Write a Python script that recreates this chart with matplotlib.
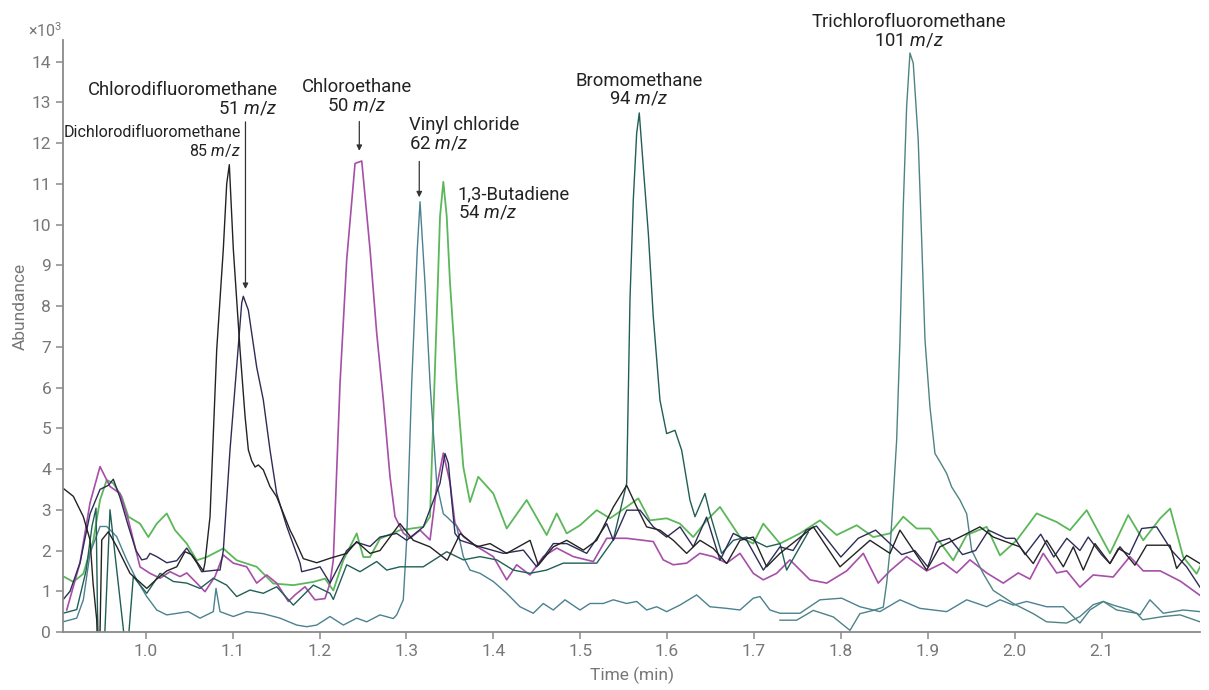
import matplotlib
matplotlib.use("Agg")
import matplotlib.pyplot as plt

plt.rcParams['font.family'] = ['Roboto', 'DejaVu Sans']
plt.rcParams['mathtext.fontset'] = 'custom'
plt.rcParams['mathtext.rm'] = 'Roboto'
plt.rcParams['mathtext.it'] = 'Roboto:italic'

# ---- data (time in min, abundance x10^3) ----
t_dichloro = [0.9048, 0.9167, 0.9282, 0.9359, 0.9394, 0.9436, 0.9445, 0.9463, 0.9474, 0.9494, 0.957, 0.9666,
              0.9819, 1.0012, 1.0127, 1.0242, 1.0357, 1.0452, 1.0529, 1.0663, 1.0682, 1.074, 1.0817, 1.0893,
              1.0932, 1.0962, 1.1008, 1.1085, 1.1143, 1.1181, 1.122, 1.1258, 1.1296, 1.1353, 1.143, 1.1507,
              1.1583, 1.1661, 1.1699, 1.1814, 1.1968, 1.2121, 1.2313, 1.2428, 1.2581, 1.2696, 1.2926, 1.308,
              1.3271, 1.347, 1.362, 1.3809, 1.3963, 1.4154, 1.4423, 1.4518, 1.4691, 1.4845, 1.5037, 1.519,
              1.5382, 1.5535, 1.565, 1.5765, 1.5918, 1.6072, 1.6225, 1.6379, 1.6532, 1.6686, 1.6839, 1.6992,
              1.7146, 1.7299, 1.7683, 1.799, 1.8335, 1.8565, 1.868, 1.8987, 1.914, 1.937, 1.96, 1.9754, 2.006,
              2.0214, 2.0368, 2.056, 2.0675, 2.079, 2.0924, 2.1097, 2.1212, 2.1384, 2.1519, 2.1788, 2.1864,
              2.1979, 2.2133]
v_dichloro = [3.53, 3.33, 2.83, 2.26, 1.2, 0.3, -0.3, -0.3, 0.0, 2.26, 2.46, 2.1,
              1.44, 1.07, 1.3, 1.5, 1.6, 1.97, 1.9, 1.5, 1.7, 2.83, 6.93, 9.4,
              11.0, 11.47, 9.4, 6.93, 5.3, 4.47, 4.2, 4.05, 4.1, 3.98, 3.57, 3.32,
              2.92, 2.5, 2.34, 1.8, 1.7, 1.81, 1.93, 2.22, 1.93, 2.0, 2.66, 2.25,
              2.09, 1.76, 2.42, 2.09, 2.17, 1.93, 2.25, 1.64, 2.09, 2.25, 2.01, 2.25,
              3.07, 3.6, 3.07, 2.58, 2.5, 2.25, 1.93, 2.25, 2.05, 1.68, 2.25, 2.33,
              1.6, 1.93, 2.58, 1.6, 2.25, 1.93, 2.5, 1.52, 2.09, 2.33, 2.58, 2.33, 2.09,
              1.68, 2.25, 1.6, 2.09, 1.52, 2.17, 1.68, 2.09, 1.64, 2.13, 2.13, 1.56,
              1.88, 1.68]

t_chlorodifluoro = [0.9048, 0.9129, 0.9244, 0.9359, 0.9474, 0.957, 0.9627, 0.9704, 0.98, 0.9888, 0.9954,
                    1.0012, 1.0049, 1.0127, 1.0242, 1.0357, 1.0472, 1.0587, 1.0644, 1.0817, 1.0855, 1.0893,
                    1.097, 1.1047, 1.1105, 1.1123, 1.1181, 1.1277, 1.1353, 1.143, 1.1507, 1.1623, 1.1776,
                    1.1795, 1.1929, 1.2006, 1.2121, 1.2313, 1.2428, 1.2581, 1.2696, 1.2888, 1.3003, 1.3195,
                    1.3387, 1.3444, 1.3483, 1.3521, 1.3559, 1.362, 1.385, 1.4117, 1.4346, 1.45, 1.4691,
                    1.4845, 1.5075, 1.5305, 1.5382, 1.5535, 1.5689, 1.5842, 1.5995, 1.6149, 1.6302, 1.6455,
                    1.6609, 1.6762, 1.6916, 1.7108, 1.7299, 1.745, 1.76, 1.772, 1.80, 1.82, 1.84, 1.855,
                    1.87, 1.885, 1.90, 1.91, 1.925, 1.94, 1.955, 1.97, 1.99, 2.0, 2.012, 2.03, 2.045, 2.06,
                    2.0751, 2.0847, 2.1, 2.1097, 2.1193, 2.132, 2.1462, 2.1634, 2.1807, 2.1979, 2.2133]
v_chlorodifluoro = [0.79, 1.0, 1.7, 2.9, 3.5, 3.6, 3.75, 3.3, 2.6, 2.0, 1.77,
                    1.8, 1.93, 1.85, 1.7, 1.75, 2.06, 1.7, 1.48, 1.52, 1.52, 2.0,
                    4.47, 6.52, 8.08, 8.24, 7.9, 6.5, 5.7, 4.47, 3.4, 2.59, 1.69,
                    1.48, 1.55, 1.6, 1.2, 2.0, 2.2, 2.1, 2.33, 2.42, 2.25, 2.58,
                    3.65, 4.38, 4.14, 3.24, 2.42, 2.25, 2.09, 1.93, 2.01, 1.6, 2.17,
                    2.17, 1.93, 2.66, 2.25, 2.99, 2.99, 2.58, 2.33, 2.58, 2.09, 2.82,
                    1.76, 2.42, 2.25, 1.52, 2.09, 2.0, 2.5, 2.6, 1.84, 2.3, 2.5, 2.2,
                    1.9, 2.0, 1.6, 2.2, 2.3, 1.9, 2.0, 2.5, 2.3, 2.3, 1.9, 2.4, 1.84, 2.3,
                    2.0, 2.33, 1.9, 1.68, 2.05, 1.9, 2.54, 2.58, 2.0, 1.6, 1.1]

t_chloroethane = [0.9091, 0.9244, 0.9359, 0.9474, 0.9589, 0.9704, 0.98, 0.9934, 1.0049, 1.0165, 1.028, 1.0395,
                  1.0472, 1.0587, 1.0682, 1.0797, 1.0893, 1.1008, 1.1162, 1.1277, 1.1392, 1.1507, 1.1641,
                  1.1718, 1.1833, 1.1948, 1.2063, 1.2121, 1.2159, 1.2236, 1.2313, 1.2409, 1.2486, 1.2581,
                  1.2658, 1.2734, 1.2811, 1.2869, 1.2964, 1.3041, 1.3157, 1.3272, 1.3349, 1.3425, 1.3502,
                  1.3559, 1.3655, 1.3809, 1.4, 1.4154, 1.4269, 1.4422, 1.4575, 1.473, 1.4921, 1.5151,
                  1.5305, 1.5535, 1.5688, 1.5841, 1.5956, 1.6071, 1.6226, 1.6377, 1.6532, 1.6686, 1.6839,
                  1.6992, 1.7107, 1.7261, 1.7414, 1.7644, 1.7837, 1.8067, 1.8258, 1.843, 1.8565, 1.8757,
                  1.8987, 1.9178, 1.9333, 1.9486, 1.9678, 1.9869, 2.0042, 2.0176, 2.0329, 2.0483, 2.0598,
                  2.0751, 2.0904, 2.1134, 2.1326, 2.148, 2.1675, 2.1905, 2.2133]
v_chloroethane = [0.54, 1.7, 3.17, 4.06, 3.57, 3.4, 2.75, 1.6, 1.44, 1.32, 1.48, 1.36,
                  1.45, 1.2, 0.99, 1.36, 1.89, 1.69, 1.6, 1.2, 1.4, 1.2, 0.75,
                  0.91, 1.11, 0.79, 0.82, 1.2, 1.77, 6.1, 9.14, 11.5, 11.56, 9.4,
                  7.34, 5.7, 3.82, 2.83, 2.43, 2.3, 2.5, 2.26, 3.57, 4.39, 3.66,
                  2.67, 2.34, 2.1, 1.85, 1.28, 1.65, 1.4, 1.85, 2.06, 1.85, 1.73,
                  2.3, 2.3, 2.26, 2.22, 1.77, 1.65, 1.69, 1.93, 1.85, 1.69, 1.93,
                  1.44, 1.28, 1.44, 1.77, 1.28, 1.2, 1.5, 1.93, 1.2, 1.5, 1.85,
                  1.5, 1.7, 1.45, 1.77, 1.45, 1.2, 1.45, 1.3, 1.93, 1.45, 1.5,
                  1.1, 1.4, 1.35, 1.85, 1.5, 1.5, 1.25, 0.9]

t_vinyl = [0.9048, 0.9206, 0.9282, 0.9359, 0.9474, 0.9551, 0.9666, 0.9781, 0.9896, 1.0012, 1.0127, 1.0242,
           1.0337, 1.049, 1.0625, 1.0778, 1.0809, 1.0855, 1.1008, 1.1162, 1.1353, 1.1545, 1.1738, 1.1853,
           1.1968, 1.2121, 1.2274, 1.2428, 1.2543, 1.2696, 1.2849, 1.2888, 1.2964, 1.3003, 1.3061, 1.3125,
           1.3157, 1.3214, 1.3272, 1.3349, 1.3425, 1.3464, 1.3579, 1.3655, 1.3732, 1.3847, 1.4, 1.4154,
           1.4307, 1.446, 1.4575, 1.469, 1.4825, 1.4998, 1.5113, 1.5266, 1.5381, 1.5535, 1.565, 1.5765,
           1.588, 1.5995, 1.6147, 1.634, 1.6493, 1.6686, 1.6839, 1.6992, 1.7069, 1.7184, 1.7299, 1.7529,
           1.7759, 1.8009, 1.8219, 1.8449, 1.868, 1.891, 1.9218, 1.9448, 1.9678, 1.9831, 1.9984, 2.0138,
           2.0368, 2.0559, 2.0751, 2.0866, 2.102, 2.1134, 2.1326, 2.1442, 2.1557, 2.171, 2.194, 2.2133]
v_vinyl = [0.25, 0.34, 0.79, 1.93, 2.59, 2.59, 2.34, 1.77, 1.28, 0.87, 0.54, 0.42,
           0.45, 0.5, 0.34, 0.5, 1.07, 0.5, 0.38, 0.5, 0.45, 0.34, 0.17, 0.13,
           0.17, 0.38, 0.17, 0.34, 0.25, 0.42, 0.33, 0.42, 0.79, 2.25, 6.1, 9.38,
           10.56, 8.56, 6.1, 3.65, 2.9, 2.83, 2.59, 1.85, 1.52, 1.44, 1.24, 0.95,
           0.62, 0.46, 0.7, 0.54, 0.79, 0.54, 0.7, 0.7, 0.79, 0.7, 0.75, 0.54,
           0.62, 0.5, 0.66, 0.91, 0.62, 0.58, 0.54, 0.83, 0.87, 0.54, 0.46, 0.46,
           0.79, 0.83, 0.62, 0.5, 0.79, 0.58, 0.5, 0.79, 0.62, 0.79, 0.66, 0.75,
           0.62, 0.62, 0.22, 0.54, 0.75, 0.66, 0.54, 0.42, 0.79, 0.46, 0.54, 0.5]

t_butadiene = [0.9048, 0.9167, 0.9282, 0.9397, 0.9474, 0.9551, 0.9627, 0.9724, 0.98, 0.9934, 1.003, 1.0127,
               1.0242, 1.0337, 1.0472, 1.0587, 1.0702, 1.0893, 1.1047, 1.1277, 1.1468, 1.1699, 1.1929,
               1.2063, 1.2159, 1.2274, 1.2428, 1.2504, 1.2581, 1.2696, 1.2926, 1.3194, 1.3272, 1.331,
               1.3349, 1.3387, 1.3425, 1.3464, 1.3502, 1.3579, 1.3655, 1.3732, 1.3827, 1.4, 1.4154,
               1.4384, 1.4614, 1.473, 1.4845, 1.4998, 1.519, 1.5343, 1.5535, 1.5669, 1.5802, 1.5995,
               1.6147, 1.6301, 1.6456, 1.6609, 1.6839, 1.6992, 1.7107, 1.7299, 1.7529, 1.7759, 1.7952,
               1.8182, 1.8373, 1.8565, 1.8718, 1.8872, 1.9025, 1.9293, 1.9448, 1.9678, 1.9831, 2.0023,
               2.0253, 2.0483, 2.0636, 2.0829, 2.1097, 2.1307, 2.148, 2.1675, 2.179, 2.194, 2.2094, 2.2171]
v_butadiene = [1.37, 1.23, 1.43, 2.25, 3.24, 3.73, 3.65, 3.32, 2.83, 2.66, 2.33, 2.66,
               2.91, 2.5, 2.17, 1.76, 1.84, 2.05, 1.76, 1.6, 1.19, 1.15, 1.23,
               1.31, 1.02, 1.76, 2.42, 1.84, 1.84, 2.29, 2.5, 2.58, 2.83, 5.28,
               7.74, 10.2, 11.05, 10.2, 8.56, 6.1, 4.05, 3.19, 3.81, 3.4, 2.54,
               3.24, 2.38, 2.91, 2.42, 2.62, 2.99, 2.79, 3.07, 3.28, 2.74, 2.79,
               2.66, 2.33, 2.74, 3.07, 2.33, 2.17, 2.66, 2.17, 2.42, 2.74, 2.38,
               2.62, 2.33, 2.42, 2.83, 2.54, 2.54, 1.76, 2.38, 2.58, 1.88, 2.25,
               2.91, 2.7, 2.5, 2.99, 1.93, 2.87, 2.25, 2.79, 3.03, 1.84, 1.43, 1.76]

t_bromo = [0.9048, 0.9206, 0.9313, 0.9382, 0.9428, 0.9445, 0.9457, 0.952, 0.9589, 0.9762, 0.9796, 0.9857,
           1.0012, 1.0165, 1.0318, 1.0472, 1.0625, 1.0778, 1.0932, 1.1047, 1.12, 1.1353, 1.1507, 1.1699,
           1.1929, 1.2121, 1.2159, 1.2313, 1.2466, 1.2658, 1.2773, 1.2926, 1.3194, 1.3464, 1.3655, 1.3847,
           1.404, 1.423, 1.4422, 1.4614, 1.4805, 1.4998, 1.519, 1.5381, 1.5535, 1.5573, 1.5611, 1.565,
           1.568, 1.5726, 1.5784, 1.5841, 1.5918, 1.5995, 1.6091, 1.6168, 1.6263, 1.6321, 1.6436, 1.6493,
           1.6628, 1.6762, 1.6916, 1.7146, 1.7299, 1.7376, 1.7625]
v_bromo = [0.46, 0.55, 1.5, 2.6, 3.04, 0.5, -0.5, -0.5, 3.0, -0.3, -0.3, 1.36,
           0.95, 1.44, 1.24, 1.2, 1.07, 1.32, 1.15, 0.87, 1.03, 0.95, 1.11, 0.66,
           1.15, 0.95, 0.8, 1.65, 1.48, 1.73, 1.52, 1.6, 1.6, 1.97, 1.77, 1.85,
           1.77, 1.52, 1.44, 1.52, 1.69, 1.69, 1.69, 2.26, 3.65, 8.15, 10.6, 12.24,
           12.74, 11.42, 9.79, 7.74, 5.69, 4.87, 4.95, 4.46, 3.24, 2.83, 3.4, 2.91,
           1.93, 2.25, 2.33, 2.09, 2.17, 1.52, 2.45]

t_trichloro = [1.7299, 1.7491, 1.7683, 1.7913, 1.8105, 1.8219, 1.8373, 1.8488, 1.8527, 1.8565, 1.8603, 1.8642,
               1.868, 1.8718, 1.8757, 1.8795, 1.8833, 1.889, 1.893, 1.8968, 1.9025, 1.9083, 1.914, 1.9218,
               1.9275, 1.937, 1.9448, 1.9505, 1.9639, 1.9754, 1.9984, 2.0214, 2.0368, 2.0598, 2.0751,
               2.0904, 2.102, 2.1174, 2.1404, 2.1473, 2.171, 2.1905, 2.2133]
v_trichloro = [0.29, 0.29, 0.53, 0.37, 0.04, 0.45, 0.53, 0.61, 1.2, 2.0, 3.32, 4.71,
               7.17, 10.44, 12.9, 14.21, 13.96, 12.08, 9.62, 7.17, 5.53, 4.38, 4.18, 3.89,
               3.56, 3.24, 2.9, 2.01, 1.43, 1.02, 0.7, 0.45, 0.25, 0.22, 0.38,
               0.67, 0.75, 0.54, 0.46, 0.3, 0.38, 0.42, 0.25]

series = [
    (t_butadiene, v_butadiene, '#5bb75a', 1.3),
    (t_chloroethane, v_chloroethane, '#a64ea8', 1.2),
    (t_vinyl, v_vinyl, '#4b8190', 1.0),
    (t_bromo, v_bromo, '#215e55', 1.0),
    (t_trichloro, v_trichloro, '#4f8383', 1.0),
    (t_chlorodifluoro, v_chlorodifluoro, '#2d2c57', 1.0),
    (t_dichloro, v_dichloro, '#232323', 1.0),
]

# name, m/z, time anchor, baselines of the two lines, alignment, font size
labels = [
    ('Dichlorodifluoromethane', '85', 1.1093, 12.15, 11.69, 'right', 11.5),
    ('Chlorodifluoromethane', '51', 1.1519, 13.17, 12.73, 'right', 13.3),
    ('Chloroethane', '50', 1.2432, 13.25, 12.80, 'center', 13.3),
    ('Vinyl chloride', '62', 1.3030, 12.31, 11.87, 'left', 13.3),
    ('1,3-Butadiene', '54', 1.3590, 10.63, 10.18, 'left', 13.3),
    ('Bromomethane', '94', 1.5677, 13.41, 12.96, 'center', 13.3),
    ('Trichlorofluoromethane', '101', 1.8784, 14.85, 14.39, 'center', 13.3),
]
arrows = [
    (1.1148, 12.52, 8.42),
    (1.2458, 12.53, 11.81),
    (1.3148, 11.55, 10.67),
]

fig = plt.figure(figsize=(12.09, 6.90), dpi=100)
ax = fig.add_axes([63 / 1209, 1 - 632 / 690, 1137 / 1209, 592 / 690])

for t, v, c, w in series:
    ax.plot(t, v, color=c, lw=w, solid_joinstyle='round')

ax.set_xlim(0.9048, 2.2133)
ax.set_ylim(0, 14.53)
ax.set_xticks([1.0, 1.1, 1.2, 1.3, 1.4, 1.5, 1.6, 1.7, 1.8, 1.9, 2.0, 2.1])
ax.set_xticklabels(['1.0', '1.1', '1.2', '1.3', '1.4', '1.5', '1.6', '1.7', '1.8', '1.9', '2.0', '2.1'])
ax.set_yticks(range(0, 15))

grey = '#777777'
for s in ['top', 'right']:
    ax.spines[s].set_visible(False)
for s in ['left', 'bottom']:
    ax.spines[s].set_color('#8a8a8a')
    ax.spines[s].set_linewidth(1.3)
ax.tick_params(axis='both', colors='#8a8a8a', labelcolor=grey, labelsize=12.5, length=5, width=1.1)

ax.set_xlabel('Time (min)', color=grey, fontsize=12.5)
ax.set_ylabel('Abundance', color=grey, fontsize=12.5)
ax.xaxis.set_label_coords(0.5, -0.058)
ax.yaxis.set_label_coords(-0.031, 0.55)

fig.text(61.7 / 1209, 1 - 36.7 / 690, r'×10$^3$', color=grey, fontsize=11.5, ha='right', va='baseline')

for name, mz, x, y1, y2, ha, fs in labels:
    ax.text(x, y1, name, ha=ha, va='baseline', fontsize=fs, color='#222222', clip_on=False)
    ax.text(x, y2, mz + r' $\mathit{m/z}$', ha=ha, va='baseline', fontsize=fs, color='#222222', clip_on=False)

for x, y0, y1 in arrows:
    ax.annotate('', xy=(x, y1), xytext=(x, y0),
                arrowprops=dict(arrowstyle='-|>', color='#333333', lw=0.9,
                                mutation_scale=8, shrinkA=0, shrinkB=0))

fig.savefig('out.png', dpi=100)
